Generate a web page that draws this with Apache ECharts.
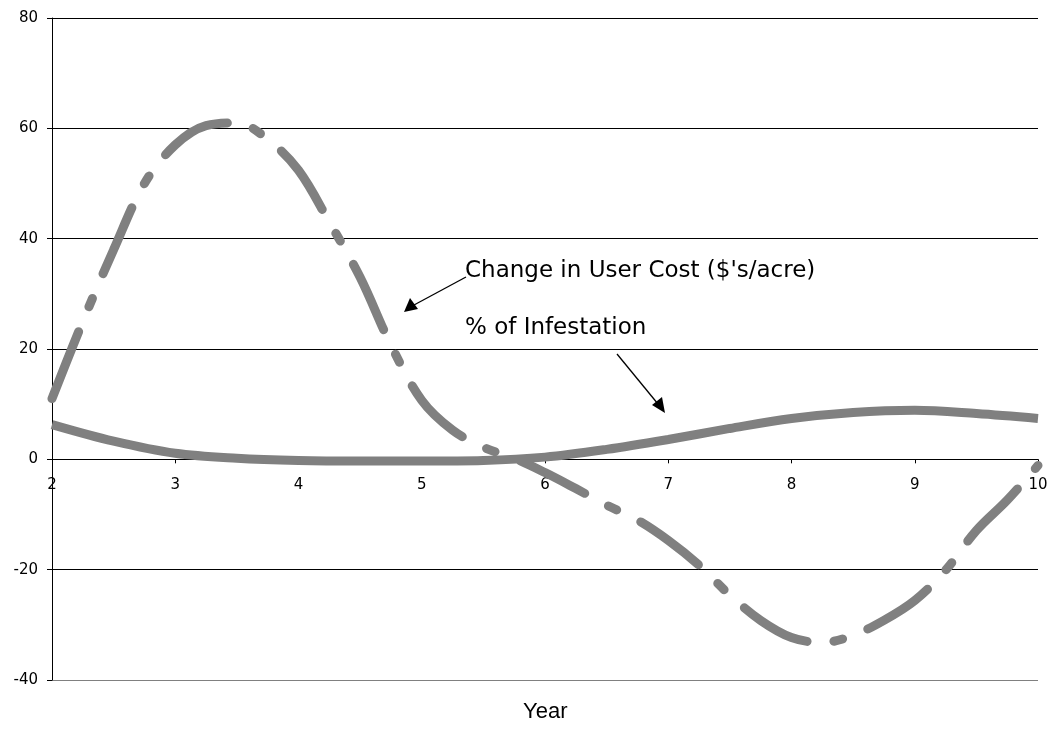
<!DOCTYPE html>
<html lang="en">
<head>
	<meta charset="utf-8">
	<title>User cost and infestation</title>
	<script src="https://cdn.jsdelivr.net/npm/echarts@6/dist/echarts.min.js"></script>
	<style>
		html, body { margin: 0; padding: 0; background: #fff; }
		#chart { width: 1055px; height: 730px; }
	</style>
</head>
<body>
<div id="chart"></div>
<script>
	// years sampled every quarter for the dashed curve
	var costYears = [2, 2.25, 2.5, 2.75, 3, 3.25, 3.5, 3.75, 4, 4.25, 4.5, 4.75, 5, 5.25, 5.5, 5.75,
		6, 6.25, 6.5, 6.75, 7, 7.25, 7.5, 7.75, 8, 8.25, 8.5, 8.75, 9, 9.25, 9.5, 9.75, 10];
	var userCost = [11, 25, 38, 50, 57, 60.5, 61, 58, 52.4, 43, 33, 20.7, 10.7, 5.3, 2.2, 0.2,
		-2.4, -5.3, -8.3, -11, -14.7, -19.2, -24.6, -29.2, -32.3, -33.2, -31.9, -29.2, -25.6, -20.1, -12.9, -7.4, -1.1];

	var infYears = [2, 2.5, 3, 3.5, 4, 4.5, 5, 5.5, 6, 6.5, 7, 7.5, 8, 8.5, 9, 9.5, 10];
	var infestation = [6.3, 3.3, 1.1, 0.2, -0.2, -0.3, -0.3, -0.2, 0.4, 1.8, 3.6, 5.6, 7.4, 8.5, 8.9, 8.3, 7.4];

	var yTicks = [-40, -20, 0, 20, 40, 60, 80];

	function pairs(xs, ys) {
		var out = [];
		for (var i = 0; i < xs.length; i++) out.push([xs[i], ys[i]]);
		return out;
	}

	var chart = echarts.init(document.getElementById('chart'));
	var grey = '#808080';
	var plotH = 730 - 18 - 50;
	var yMin = yTicks[0], yMax = yTicks[yTicks.length - 1];
	var option = {
		animation: false,
		grid: { left: 52, right: 17, top: 18, bottom: 50, containLabel: false, outerBoundsMode: 'none' },
		xAxis: {
			type: 'value',
			min: 2, max: 10, interval: 1,
			// the year axis crosses at y = 0, with its labels right under it
			offset: -plotH * (0 - yMin) / (yMax - yMin),
			axisLine: { onZero: false, lineStyle: { color: '#000', width: 1 } },
			axisTick: { show: true, length: 4, lineStyle: { color: '#000' } },
			axisLabel: { fontFamily: 'DejaVu Sans', fontSize: 15, color: '#000', margin: 18 },
			splitLine: { show: false }
		},
		yAxis: {
			type: 'value',
			min: yMin, max: yMax, interval: 20,
			axisLine: { show: true, onZero: false, lineStyle: { color: '#000', width: 1 } },
			axisTick: { show: true, length: 5, lineStyle: { color: '#000' } },
			axisLabel: { fontFamily: 'DejaVu Sans', fontSize: 15, color: '#000', margin: 14 },
			splitLine: { show: true, lineStyle: { color: ['#808080', '#000', '#000', '#000', '#000', '#000', '#000'], width: 1 } }
		},
		series: [{
			name: "Change in User Cost ($'s/acre)",
			type: 'line',
			data: pairs(costYears, userCost),
			smooth: 0.35,
			showSymbol: false,
			// long dash - dot
			lineStyle: { color: grey, width: 9, type: [72, 27, 9, 27], cap: 'round' }
		}, {
			name: '% of Infestation',
			type: 'line',
			data: pairs(infYears, infestation),
			smooth: 0.35,
			showSymbol: false,
			lineStyle: { color: grey, width: 9 }
		}],
		graphic: [
			{ type: 'text', left: 465, top: 260, style: { text: "Change in User Cost ($'s/acre)", font: '23px "DejaVu Sans"', fill: '#000' } },
			{ type: 'text', left: 465, top: 317, style: { text: '% of Infestation', font: '23px "DejaVu Sans"', fill: '#000' } },
			{ type: 'text', left: 523, top: 701, style: { text: 'Year', font: '22px "Liberation Sans"', fill: '#000' } },
			{ type: 'line', shape: { x1: 466, y1: 277, x2: 414, y2: 305 }, style: { stroke: '#000', lineWidth: 1.3 } },
			{ type: 'polygon', shape: { points: [[404, 312], [410, 298], [418, 309]] }, style: { fill: '#000' } },
			{ type: 'line', shape: { x1: 617, y1: 354, x2: 658, y2: 404 }, style: { stroke: '#000', lineWidth: 1.3 } },
			{ type: 'polygon', shape: { points: [[665, 413], [652, 405], [662, 397]] }, style: { fill: '#000' } }
		]
	};
	chart.setOption(option);
</script>
</body>
</html>
